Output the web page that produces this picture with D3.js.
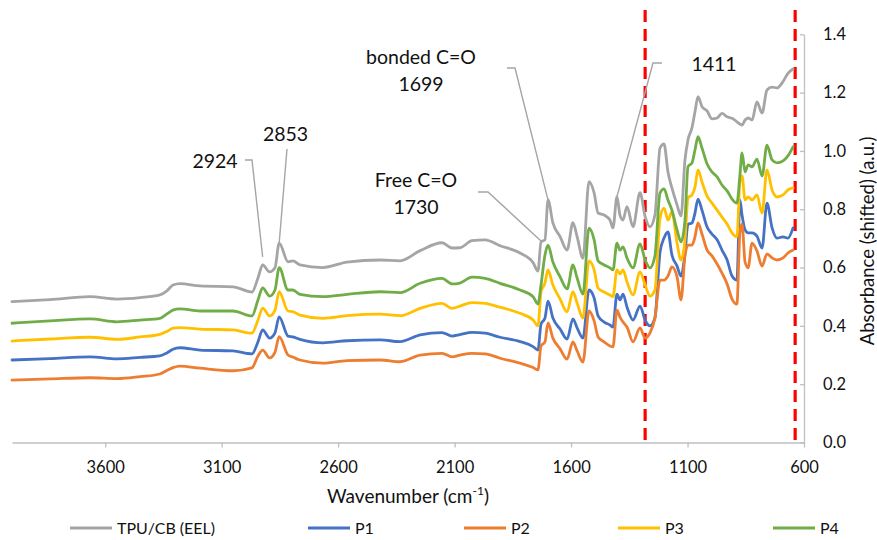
<!DOCTYPE html>
<html>
<head>
<meta charset="utf-8">
<script src="https://cdn.jsdelivr.net/npm/d3@7"></script>
<style>
  body { margin: 0; background: #fff; }
  svg { display: block; font-family: Lato, "Open Sans", sans-serif; }
</style>
</head>
<body>
<svg id="chart" width="877" height="540"></svg>
<script>
// ---------- DATA ----------
const wavenumber = [4000, 3837, 3665, 3549, 3450, 3365, 3335, 3309, 3279, 3193,
  3051, 2970, 2944, 2924, 2894, 2871, 2853, 2815, 2794, 2764,
  2665, 2562, 2420, 2334, 2248, 2154, 2111, 2077, 2025, 1969,
  1905, 1819, 1763,
  1742, 1729, 1712, 1699, 1678, 1647, 1617, 1592, 1574, 1549,
  1523, 1501, 1484, 1458, 1433, 1420, 1403, 1390, 1377, 1360,
  1334, 1304, 1282, 1261, 1240, 1218, 1201, 1184, 1167, 1145,
  1128, 1111, 1098, 1081, 1068, 1055, 1038, 1016, 995, 973,
  952, 930, 909, 888, 875, 866, 853, 840, 823, 802,
  780, 759, 737, 716, 690, 669, 647];

const tpuCB = [0.483, 0.490, 0.500, 0.492, 0.497, 0.506, 0.520, 0.540, 0.545, 0.537,
  0.534, 0.516, 0.564, 0.609, 0.585, 0.599, 0.684, 0.620, 0.623, 0.609,
  0.600, 0.619, 0.626, 0.623, 0.658, 0.685, 0.667, 0.668, 0.692, 0.695,
  0.675, 0.650, 0.617,
  0.588, 0.688, 0.695, 0.832, 0.753, 0.706, 0.660, 0.754, 0.706, 0.632,
  0.895, 0.856, 0.787, 0.780, 0.763, 0.736, 0.843, 0.780, 0.763, 0.809,
  0.740, 0.857, 0.775, 0.740, 0.780, 1.010, 1.024, 0.928, 0.873, 0.815,
  0.777, 0.969, 1.038, 1.079, 1.134, 1.186, 1.152, 1.137, 1.110, 1.113,
  1.129, 1.117, 1.112, 1.100, 1.092, 1.089, 1.106, 1.113, 1.106, 1.168,
  1.130, 1.209, 1.219, 1.216, 1.238, 1.266, 1.281];

const p1 = [0.283, 0.288, 0.294, 0.287, 0.292, 0.297, 0.307, 0.320, 0.325, 0.317,
  0.314, 0.304, 0.345, 0.386, 0.358, 0.376, 0.431, 0.365, 0.362, 0.354,
  0.342, 0.349, 0.352, 0.346, 0.369, 0.377, 0.365, 0.370, 0.378, 0.375,
  0.361, 0.346, 0.329,
  0.317, 0.406, 0.427, 0.485, 0.427, 0.389, 0.355, 0.424, 0.393, 0.358,
  0.523, 0.496, 0.434, 0.413, 0.403, 0.396, 0.509, 0.489, 0.509, 0.465,
  0.420, 0.468, 0.420, 0.400, 0.427, 0.653, 0.701, 0.722, 0.643, 0.605,
  0.571, 0.647, 0.749, 0.753, 0.787, 0.835, 0.797, 0.739, 0.715, 0.695,
  0.660, 0.626, 0.571, 0.557, 0.832, 0.780, 0.729, 0.719, 0.719, 0.708,
  0.667, 0.821, 0.736, 0.701, 0.705, 0.701, 0.736];

const p2 = [0.214, 0.218, 0.222, 0.219, 0.226, 0.235, 0.247, 0.257, 0.262, 0.255,
  0.246, 0.256, 0.297, 0.317, 0.290, 0.310, 0.363, 0.300, 0.293, 0.283,
  0.272, 0.281, 0.283, 0.277, 0.300, 0.306, 0.294, 0.300, 0.306, 0.304,
  0.289, 0.272, 0.257,
  0.249, 0.331, 0.345, 0.410, 0.358, 0.321, 0.286, 0.345, 0.314, 0.276,
  0.451, 0.417, 0.362, 0.345, 0.331, 0.328, 0.454, 0.430, 0.413, 0.396,
  0.345, 0.393, 0.358, 0.376, 0.427, 0.557, 0.557, 0.571, 0.602, 0.568,
  0.489, 0.640, 0.677, 0.677, 0.705, 0.753, 0.715, 0.660, 0.640, 0.612,
  0.581, 0.544, 0.492, 0.475, 0.722, 0.749, 0.619, 0.599, 0.684, 0.657,
  0.605, 0.647, 0.633, 0.626, 0.633, 0.650, 0.660];

const p3 = [0.348, 0.355, 0.361, 0.354, 0.362, 0.371, 0.381, 0.392, 0.394, 0.389,
  0.386, 0.375, 0.420, 0.461, 0.434, 0.454, 0.517, 0.451, 0.449, 0.437,
  0.426, 0.435, 0.440, 0.435, 0.460, 0.477, 0.460, 0.468, 0.480, 0.477,
  0.464, 0.443, 0.420,
  0.400, 0.516, 0.547, 0.592, 0.540, 0.492, 0.448, 0.517, 0.478, 0.427,
  0.623, 0.592, 0.530, 0.516, 0.506, 0.500, 0.592, 0.578, 0.592, 0.551,
  0.506, 0.585, 0.540, 0.502, 0.523, 0.770, 0.804, 0.763, 0.791, 0.684,
  0.626, 0.695, 0.839, 0.849, 0.876, 0.935, 0.894, 0.845, 0.821, 0.797,
  0.773, 0.749, 0.719, 0.705, 0.894, 0.914, 0.832, 0.842, 0.832, 0.849,
  0.787, 0.935, 0.866, 0.842, 0.849, 0.866, 0.873];

const p4 = [0.409, 0.417, 0.424, 0.414, 0.420, 0.426, 0.441, 0.454, 0.458, 0.451,
  0.451, 0.434, 0.489, 0.530, 0.502, 0.523, 0.600, 0.523, 0.523, 0.508,
  0.500, 0.508, 0.517, 0.514, 0.546, 0.563, 0.544, 0.547, 0.567, 0.563,
  0.546, 0.523, 0.500,
  0.475, 0.540, 0.643, 0.677, 0.619, 0.568, 0.527, 0.609, 0.564, 0.509,
  0.735, 0.695, 0.623, 0.609, 0.599, 0.592, 0.684, 0.660, 0.671, 0.633,
  0.599, 0.681, 0.626, 0.599, 0.640, 0.856, 0.870, 0.832, 0.797, 0.729,
  0.688, 0.763, 0.946, 0.959, 1.003, 1.049, 1.010, 0.955, 0.928, 0.911,
  0.883, 0.863, 0.835, 0.821, 0.918, 0.993, 0.928, 0.952, 0.945, 0.972,
  0.914, 1.020, 0.969, 0.959, 0.966, 0.983, 1.014];

const seriesNames = ["TPU/CB (EEL)", "P1", "P2", "P3", "P4"];
const xTicks = [3600, 3100, 2600, 2100, 1600, 1100, 600];
const yTicks = [0.0, 0.2, 0.4, 0.6, 0.8, 1.0, 1.2, 1.4];
const markerLines = [1282, 638];          // red dashed region bounds (cm-1)
const annotations = [                      // peak labels on TPU/CB trace
  { lines: ["2924"], peak: 2924 },
  { lines: ["2853"], peak: 2853 },
  { lines: ["Free C=O", "1730"], peak: 1730 },
  { lines: ["bonded C=O", "1699"], peak: 1699 },
  { lines: ["1411"], peak: 1411 }
];

// ---------- LAYOUT / STYLE ----------
const colors = ["#A5A5A5", "#4472C4", "#ED7D31", "#FFC000", "#70AD47"];
const seriesValues = [tpuCB, p1, p2, p3, p4];
const axisColor = "#BFBFBF";
const textColor = "#111";

const svg = d3.select("#chart");
const x = d3.scaleLinear().domain([4000, 600]).range([12, 804]);
const y = d3.scaleLinear().domain([0, 1.4]).range([442.5, 34.3]);

// red dashed lines
svg.selectAll("line.marker").data(markerLines).join("line")
  .attr("class", "marker")
  .attr("x1", d => x(d)).attr("x2", d => x(d))
  .attr("y1", 10).attr("y2", 442)
  .attr("stroke", "#FF0000").attr("stroke-width", 3.2)
  .attr("stroke-dasharray", "12,7");

// x axis
const xAxis = svg.append("g").attr("transform", `translate(0,${y(0)})`)
  .call(d3.axisBottom(x).tickValues(xTicks).tickSize(5).tickSizeOuter(0).tickFormat(d3.format("d")));
xAxis.select(".domain").attr("stroke", axisColor).attr("stroke-width", 1.3);
xAxis.selectAll(".tick line").attr("stroke", axisColor).attr("stroke-width", 1.3);
xAxis.selectAll(".tick text").attr("y", 19).attr("fill", textColor)
  .style("font-size", "16.5px").style("font-family", "Lato, sans-serif");

// y axis on the right
const yAxis = svg.append("g").attr("transform", `translate(${x(600)},0)`)
  .call(d3.axisLeft(y).tickValues(yTicks).tickSize(4).tickSizeOuter(0).tickFormat(d3.format(".1f")));
yAxis.select(".domain").attr("stroke", axisColor).attr("stroke-width", 1.3);
yAxis.selectAll(".tick line").attr("stroke", axisColor).attr("stroke-width", 1.3);
yAxis.selectAll(".tick text").attr("x", 19).attr("text-anchor", "start").attr("fill", textColor)
  .style("font-size", "16.5px").style("font-family", "Lato, sans-serif");

// axis titles
const xt = svg.append("text").attr("x", 408).attr("y", 503).attr("text-anchor", "middle")
  .attr("fill", textColor).style("font-size", "19px");
xt.append("tspan").text("Wavenumber (cm");
xt.append("tspan").text("-1").attr("dy", -8).style("font-size", "12px");
xt.append("tspan").text(")").attr("dy", 8);

svg.append("text").attr("transform", "translate(874,241) rotate(-90)")
  .attr("text-anchor", "middle").attr("fill", textColor).style("font-size", "18.5px")
  .text("Absorbance (shifted) (a.u.)");

// series lines
const line = d3.line().curve(d3.curveMonotoneX).x((d, i) => x(wavenumber[i])).y(d => y(d));
svg.selectAll("path.series").data(seriesValues).join("path")
  .attr("class", "series")
  .attr("d", d => line(d))
  .attr("fill", "none")
  .attr("stroke", (d, i) => colors[i])
  .attr("stroke-width", 2.8)
  .attr("stroke-linejoin", "round")
  .attr("stroke-linecap", "round");

// annotations
function peakY(w) {
  let best = 0;
  wavenumber.forEach((v, i) => { if (Math.abs(v - w) < Math.abs(wavenumber[best] - w)) best = i; });
  return { px: x(wavenumber[best]), py: y(tpuCB[best]) };
}
const annLayout = [
  { tx: 215, ty: [161], leader: [[245, 160], [252, 160]], endDy: -8 },
  { tx: 285.5, ty: [134], leader: [[287, 149]], endDy: 0 },
  { tx: 416, ty: [180, 207], leader: [[478, 192], [488, 192]], endDy: -1 },
  { tx: 421, ty: [57, 84], leader: [[507, 68], [515, 68]], endDy: 0 },
  { tx: 714, ty: [64], leader: [[662, 63], [653, 63]], endDy: 0 }
];
annotations.forEach((a, k) => {
  const L = annLayout[k];
  const p = peakY(a.peak);
  const pts = L.leader.concat([[p.px, p.py + L.endDy]]);
  svg.append("path").attr("d", d3.line()(pts))
    .attr("fill", "none").attr("stroke", "#A5A5A5").attr("stroke-width", 1.4);
  a.lines.forEach((t, j) => {
    svg.append("text").attr("x", L.tx).attr("y", L.ty[j]).attr("dy", "0.36em")
      .attr("text-anchor", "middle").attr("fill", textColor).style("font-size", "19.5px").text(t);
  });
});

// legend
const legendX = [70, 308, 464, 618, 773];
const lg = svg.selectAll("g.leg").data(seriesNames).join("g")
  .attr("class", "leg").attr("transform", (d, i) => `translate(${legendX[i]},528)`);
lg.append("line").attr("x1", 0).attr("x2", 42).attr("y1", 0).attr("y2", 0)
  .attr("stroke", (d, i) => colors[i]).attr("stroke-width", 2.8);
lg.append("text").attr("x", 47).attr("dy", "0.35em").attr("fill", textColor)
  .style("font-size", "16px").text(d => d);
</script>
</body>
</html>
